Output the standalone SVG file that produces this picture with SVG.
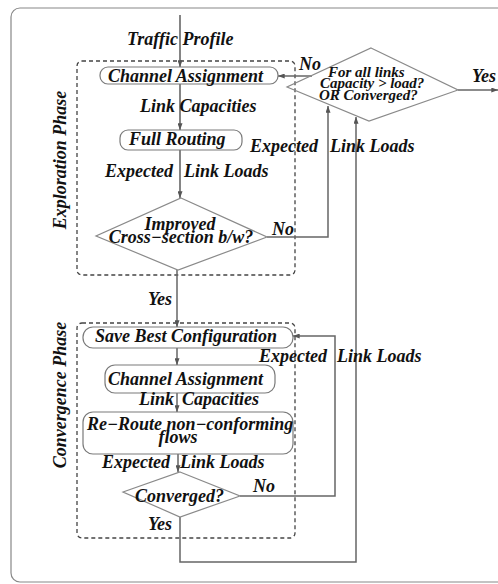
<svg xmlns="http://www.w3.org/2000/svg" width="498" height="584" viewBox="0 0 498 584">
<style>
text{font-family:"Liberation Serif","Times New Roman",serif;font-weight:bold;font-style:italic;font-size:18px;fill:#111}
.sm{font-size:15px}
.box{fill:none;stroke:#7a7a7a;stroke-width:1.2}
.dia{fill:none;stroke:#8a8a8a;stroke-width:1.2}
.dash{fill:none;stroke:#444;stroke-width:1.3;stroke-dasharray:4 3}
.c{fill:none;stroke:#666;stroke-width:1.5}
.m{fill:none;stroke:#333;stroke-width:1.2}
</style>
<defs>
<marker id="a" viewBox="0 0 8 6" refX="8" refY="3" markerWidth="7" markerHeight="5" markerUnits="userSpaceOnUse" orient="auto">
<path d="M0,0 L8,3 L0,6 Z" fill="#555"/>
</marker>
</defs>
<rect x="11" y="8" width="520" height="574" rx="9" fill="none" stroke="#888" stroke-width="1.2"/>
<g id="exploration-phase">
<rect class="dash" x="77" y="61" width="218" height="214" rx="5"/>
<text transform="translate(66,160) rotate(-90)" text-anchor="middle">Exploration Phase</text>
</g>
<g id="convergence-phase">
<rect class="dash" x="77" y="323" width="218" height="215" rx="5"/>
<text transform="translate(66,395) rotate(-90)" text-anchor="middle">Convergence Phase</text>
</g>
<g id="connectors">
<path class="m" d="M180,15 V67" marker-end="url(#a)"/>
<path class="m" d="M180,84 V130" marker-end="url(#a)"/>
<path class="m" d="M180,150 V198" marker-end="url(#a)"/>
<path class="c" d="M177,270 V327" marker-end="url(#a)"/>
<path class="c" d="M177,348 V365" marker-end="url(#a)"/>
<path class="c" d="M177,393 V412" marker-end="url(#a)"/>
<path class="c" d="M178,454 V472" marker-end="url(#a)"/>
<path class="c" d="M267,237 H328 V106" marker-end="url(#a)"/>
<path class="c" d="M312,76 H278" marker-end="url(#a)"/>
<path class="c" d="M458,90 H498" marker-end="url(#a)"/>
<path class="c" d="M240,496 H335 V336 H293" marker-end="url(#a)"/>
<path class="c" d="M180,517 V562 H356 V117" marker-end="url(#a)"/>
</g>
<g id="traffic-profile-label"><text x="127" y="45">Traffic Profile</text></g>
<g id="channel-assignment-1">
<rect class="box" x="100" y="67" width="178" height="17" rx="8"/>
<text x="108" y="82">Channel Assignment</text>
</g>
<g id="link-capacities-1"><text x="140" y="112">Link Capacities</text></g>
<g id="full-routing">
<rect class="box" x="120" y="130" width="122" height="20" rx="8"/>
<text x="129" y="145">Full Routing</text>
</g>
<g id="expected-loads-1"><text y="152"><tspan x="250">Expected</tspan><tspan x="330">Link Loads</tspan></text></g>
<g id="expected-loads-2"><text y="177"><tspan x="105">Expected</tspan><tspan x="184">Link Loads</tspan></text></g>
<g id="improved-decision">
<polygon class="dia" points="181,198 267,237 178,270 96,236"/>
<text x="180" y="230" text-anchor="middle">Improved</text>
<text x="181" y="243" text-anchor="middle">Cross−section b/w?</text>
<text x="272" y="235">No</text>
</g>
<g id="global-decision">
<polygon class="dia" points="371,48 458,90 369,121 287,87"/>
<text class="sm" x="328" y="77">For all links</text>
<text class="sm" x="320" y="88">Capacity &gt; load?</text>
<text class="sm" x="319" y="100">OR Converged?</text>
<text x="299" y="70">No</text>
<text x="472" y="82">Yes</text>
</g>
<g id="yes-label-1"><text x="148" y="305">Yes</text></g>
<g id="save-best">
<rect class="box" x="83" y="327" width="210" height="21" rx="10"/>
<text x="95" y="342">Save Best Configuration</text>
</g>
<g id="expected-loads-3"><text y="362"><tspan x="259">Expected</tspan><tspan x="337">Link Loads</tspan></text></g>
<g id="channel-assignment-2">
<rect class="box" x="105" y="365" width="170" height="28" rx="10"/>
<text x="108" y="385">Channel Assignment</text>
</g>
<g id="link-capacities-2"><text y="405"><tspan x="139">Link</tspan><tspan x="182">Capacities</tspan></text></g>
<g id="re-route">
<rect class="box" x="83" y="412" width="210" height="42" rx="10"/>
<text x="87" y="430">Re−Route non−conforming</text>
<text x="178" y="443" text-anchor="middle">flows</text>
</g>
<g id="expected-loads-4"><text y="468"><tspan x="102">Expected</tspan><tspan x="180">Link Loads</tspan></text></g>
<g id="converged-decision">
<polygon class="dia" points="180,472 240,496 180,517 123,492"/>
<text x="135" y="502">Converged?</text>
<text x="253" y="492">No</text>
<text x="148" y="530">Yes</text>
</g>
</svg>
